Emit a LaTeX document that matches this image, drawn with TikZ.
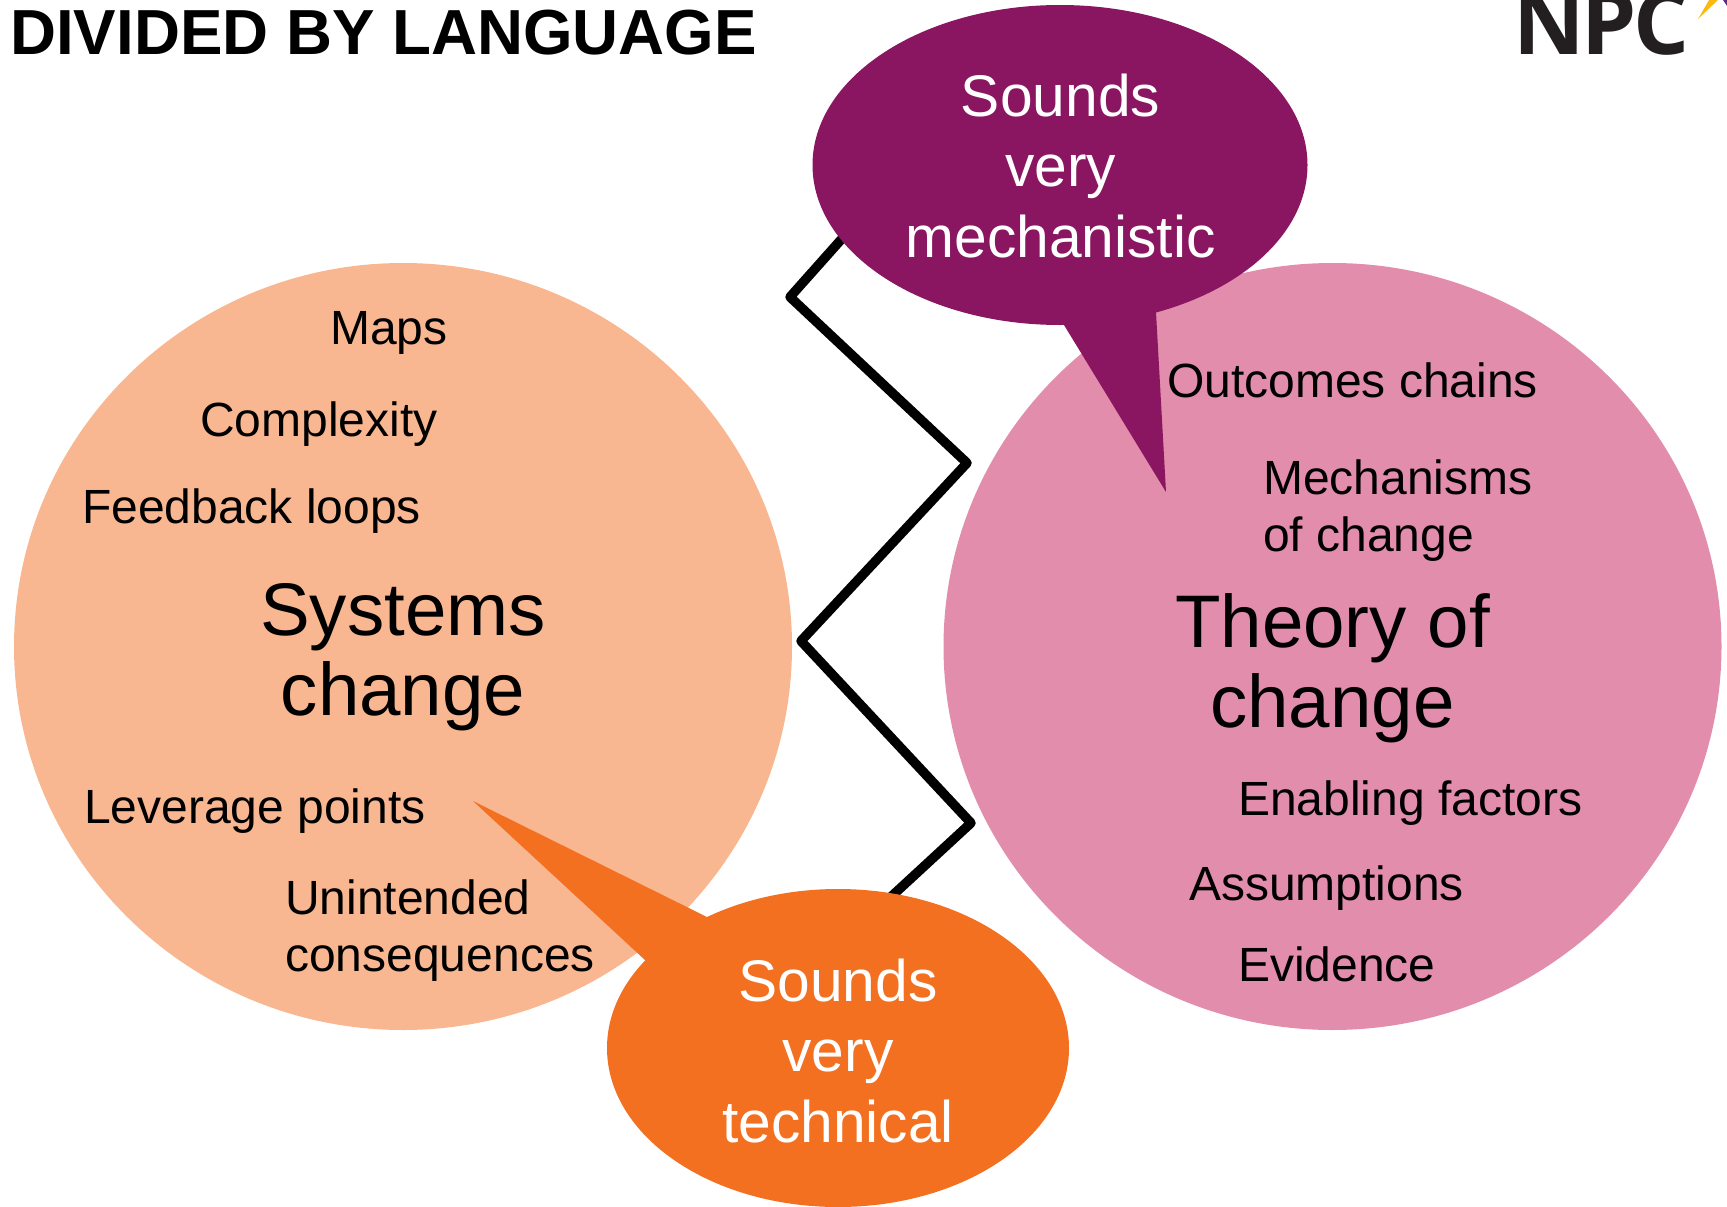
\documentclass[tikz,border=0pt]{standalone}
\usepackage{fontspec}
\setmainfont{Liberation Sans}
\newfontfamily\logofont[LetterSpace=-4]{Open Sans}
\usetikzlibrary{positioning}
\definecolor{peachc}{HTML}{F9B791}
\definecolor{pinkc}{HTML}{E28DAC}
\definecolor{plumc}{HTML}{8A1662}
\definecolor{orangec}{HTML}{F37021}
\definecolor{logoc}{HTML}{231F20}
\definecolor{starc}{HTML}{FDB913}
\definecolor{starb}{HTML}{5B2C86}
\tikzset{
	itemlabel/.style={anchor=base west,inner sep=0pt,align=left,font=\fontsize{48}{57}\selectfont},
	biglabel/.style={anchor=base,inner sep=0pt,align=center,font=\fontsize{74.5}{80}\selectfont},
	saylabel/.style={anchor=base,inner sep=0pt,align=center,text=white,font=\fontsize{58.7}{70.5}\selectfont},
}
\begin{document}
\begin{tikzpicture}[x=1pt,y=-1pt]
	\useasboundingbox (0,0) rectangle (1727,1207);
	\begin{scope}
	\clip (0,0) rectangle (1727,1207);

	% circles
	\coordinate (c1) at (403,646.5);
	\coordinate (c2) at (1332.5,646.5);
	\fill[peachc] (c1) ellipse [x radius=389,y radius=383.5];
	\fill[pinkc] (c2) ellipse [x radius=389,y radius=383.5];

	% zigzag between them
	\coordinate (z1) at (855,224);
	\coordinate (z2) at (790,297);
	\coordinate (z3) at (967,463);
	\coordinate (z4) at (801,641);
	\coordinate (z5) at (971,823);
	\coordinate (z6) at (855,930);
	\draw[line width=9.5pt,line join=round] (z1) -- (z2) -- (z3) -- (z4) -- (z5) -- (z6);

	% speech bubbles
	\coordinate (b1) at (1060,165);
	\coordinate (t1) at (1064,325);
	\coordinate (t2) at (1166,492);
	\coordinate (t3) at (1156,312);
	\fill[plumc] (b1) ellipse [x radius=247.5,y radius=160];
	\fill[plumc] (t1) -- (t2) -- (t3) -- (b1) -- cycle;

	\coordinate (b2) at (838,1048);
	\coordinate (t4) at (707,917);
	\coordinate (t5) at (473,801);
	\coordinate (t6) at (645,960);
	\fill[orangec] (b2) ellipse [x radius=231,y radius=159];
	\fill[orangec] (t4) -- (t5) -- (t6) -- (b2) -- cycle;

	% logo
	\node[anchor=base west,inner sep=0pt,text=logoc,font=\logofont\bfseries\fontsize{88}{88}\selectfont] (logo) at (1513,55) {NPC};
	\coordinate (s1) at (1698,19);
	\coordinate (s2) at (1709,0);
	\coordinate (s3) at (1718,0);
	\fill[starc] (s1) -- (s2) -- (s3) -- cycle;
	\coordinate (s4) at (1723,0);
	\coordinate (s5) at (1727,0);
	\coordinate (s6) at (1727,6);
	\fill[starb] (s4) -- (s5) -- (s6) -- cycle;
	\end{scope}

	% title
	\node[anchor=base west,inner sep=0pt,font=\bfseries\fontsize{63.7}{70}\selectfont] (title) at (10,55) {DIVIDED BY LANGUAGE};

	% left circle
	\node[biglabel] (systems) at (403,715.5) {Systems\\change};
	\node[itemlabel] (maps) at (330,344) {Maps};
	\node[itemlabel] (complexity) at (200,436) {Complexity};
	\node[itemlabel] (feedback) at (82,523) {Feedback loops};
	\node[itemlabel] (leverage) at (84,823) {Leverage points};
	\node[itemlabel] (unintended) at (285,971) {Unintended\\consequences};

	% right circle
	\node[biglabel] (theory) at (1332.5,727) {Theory of\\change};
	\node[itemlabel] (outcomes) at (1167,397) {Outcomes chains};
	\node[itemlabel] (mechanisms) at (1263,551) {Mechanisms\\of change};
	\node[itemlabel] (enabling) at (1238,815) {Enabling factors};
	\node[itemlabel] (assumptions) at (1189,900) {Assumptions};
	\node[itemlabel] (evidence) at (1238,981) {Evidence};

	% bubble texts
	\node[saylabel] (saymech) at (1060.5,257) {Sounds\\very\\mechanistic};
	\node[saylabel] (saytech) at (838,1142) {Sounds\\very\\technical};
\end{tikzpicture}
\end{document}
